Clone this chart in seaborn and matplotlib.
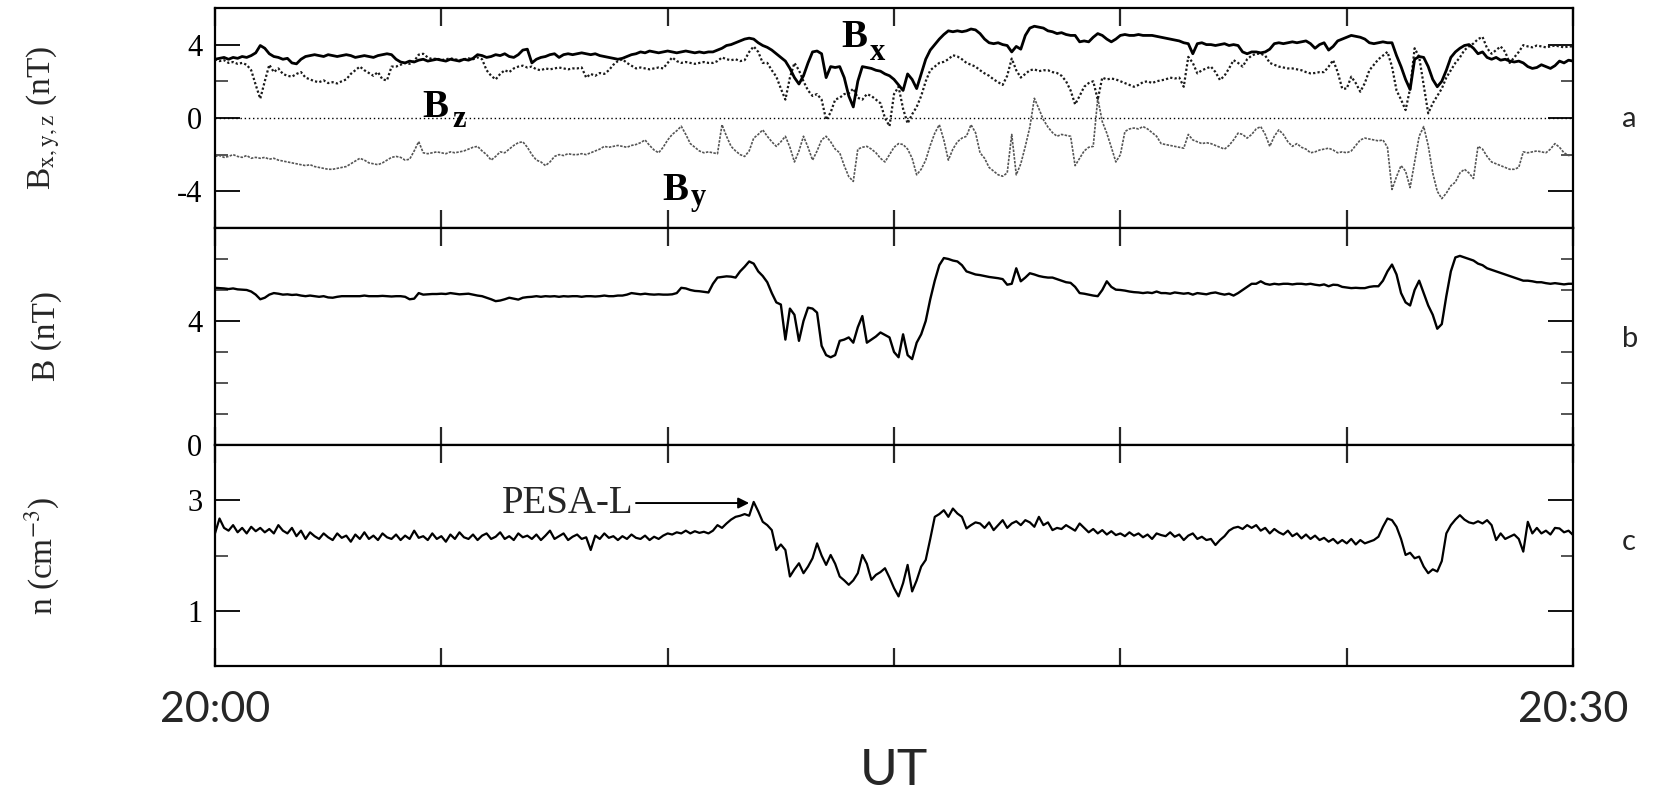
import numpy as np
import pandas as pd
import matplotlib
matplotlib.use("Agg")
import matplotlib.pyplot as plt
from matplotlib.ticker import NullLocator
import seaborn as sns

# time grid: minutes after 20:00 UT
minutes = np.round(np.arange(0, 30.05, 0.1), 1)

bx = [
    3.2, 3.25, 3.3, 3.2, 3.3, 3.25, 3.35, 3.3, 3.4, 3.55,
    3.95, 3.8, 3.5, 3.35, 3.3, 3.2, 3.25, 3.0, 2.95, 3.2,
    3.35, 3.4, 3.45, 3.4, 3.35, 3.45, 3.4, 3.35, 3.4, 3.45,
    3.4, 3.3, 3.35, 3.4, 3.35, 3.3, 3.4, 3.45, 3.5, 3.45,
    3.2, 3.05, 3.0, 3.1, 3.05, 3.15, 3.2, 3.1, 3.15, 3.2,
    3.15, 3.1, 3.2, 3.15, 3.1, 3.2, 3.15, 3.25, 3.45, 3.4,
    3.3, 3.35, 3.45, 3.4, 3.5, 3.35, 3.3, 3.45, 3.7, 3.75,
    3.0, 3.2, 3.3, 3.35, 3.45, 3.5, 3.3, 3.45, 3.5, 3.45,
    3.5, 3.55, 3.5, 3.45, 3.5, 3.4, 3.35, 3.3, 3.25, 3.2,
    3.25, 3.35, 3.45, 3.5, 3.6, 3.55, 3.65, 3.6, 3.55, 3.6,
    3.65, 3.6, 3.55, 3.6, 3.65, 3.6, 3.55, 3.6, 3.55, 3.6,
    3.6, 3.7, 3.8, 3.95, 4.0, 4.1, 4.2, 4.3, 4.35, 4.3,
    4.1, 3.95, 3.85, 3.7, 3.5, 3.3, 3.1, 2.7, 2.2, 1.85,
    2.3, 3.0, 3.6, 3.65, 3.5, 2.2, 2.8, 2.75, 2.8, 2.2,
    1.2, 0.6, 2.0, 2.8, 2.75, 2.7, 2.6, 2.55, 2.4, 2.3,
    2.1, 1.8, 1.5, 2.4, 2.1, 1.6, 2.4, 3.2, 3.7, 4.0,
    4.3, 4.55, 4.75, 4.7, 4.75, 4.7, 4.75, 4.85, 4.8, 4.6,
    4.3, 4.1, 4.05, 4.1, 4.0, 3.95, 3.6, 3.9, 3.75, 4.5,
    4.9, 5.0, 4.95, 4.9, 4.75, 4.7, 4.6, 4.65, 4.55, 4.5,
    4.5, 4.15, 4.2, 4.15, 4.4, 4.6, 4.5, 4.3, 4.15, 4.3,
    4.5, 4.55, 4.5, 4.5, 4.55, 4.5, 4.5, 4.5, 4.45, 4.4,
    4.35, 4.3, 4.25, 4.2, 4.1, 4.05, 3.5, 4.05, 4.1, 4.0,
    4.0, 3.95, 4.0, 4.05, 3.95, 4.0, 3.95, 3.6, 3.5, 3.6,
    3.6, 3.55, 3.6, 3.75, 4.05, 4.1, 4.05, 4.1, 4.15, 4.1,
    4.15, 4.2, 4.05, 3.8, 4.0, 4.1, 3.7, 3.9, 4.2, 4.3,
    4.4, 4.5, 4.45, 4.4, 4.3, 4.1, 4.05, 4.1, 4.15, 4.1,
    4.1, 3.4, 2.8, 2.1, 1.55, 3.2, 3.35, 3.3, 2.8, 2.1,
    1.7, 2.0, 2.6, 3.3, 3.6, 3.8, 3.95, 4.0, 3.8, 3.5,
    3.6, 3.3, 3.2, 3.3, 3.15, 3.2, 3.1, 3.05, 3.1, 3.0,
    2.8, 2.7, 2.75, 2.9, 2.8, 2.7, 2.85, 3.1, 3.0, 3.15,
    3.1,
]

bz = [
    3.2, 3.1, 3.15, 3.0, 3.05, 2.95, 3.0, 2.9, 2.6, 1.8,
    1.05, 2.0, 2.9, 2.5, 2.7, 2.4, 2.3, 2.25, 2.4, 2.5,
    2.2, 2.1, 2.0, 1.95, 2.05, 1.9, 1.95, 1.88, 2.0, 2.1,
    2.4, 2.6, 2.8, 2.6, 2.45, 2.3, 2.5, 2.1, 2.05, 2.8,
    2.8, 2.9, 3.0, 2.95, 3.1, 3.45, 3.5, 3.3, 3.2, 3.25,
    3.15, 3.2, 3.25, 3.2, 3.15, 3.2, 3.25, 3.2, 3.3, 3.2,
    2.6, 2.3, 2.1, 2.4, 2.6, 2.5, 2.7, 2.8, 2.85, 2.75,
    2.8, 2.65, 2.6, 2.7, 2.65, 2.7, 2.75, 2.7, 2.65, 2.7,
    2.7, 2.75, 2.2, 2.4, 2.3, 2.45, 2.4, 2.6, 2.9, 3.1,
    3.2, 3.0, 2.85, 2.7, 2.75, 2.7, 2.65, 2.7, 2.75, 2.7,
    3.0, 3.3, 3.1, 3.0, 3.05, 3.0, 2.95, 3.0, 3.05, 3.0,
    3.0, 3.1, 3.3, 3.2, 3.15, 3.2, 3.1, 3.15, 3.6, 3.9,
    3.6, 3.0, 3.0, 2.6, 2.25, 1.6, 1.0, 2.2, 3.0, 2.6,
    2.0, 1.5, 1.2, 1.3, 1.0, -0.1, 0.3, 1.0, 1.1, 1.3,
    1.34, 1.6, 1.1, 1.0, 1.3, 1.2, 1.0, 0.8, 0.0, -0.45,
    1.3, 1.7, 0.5, -0.3, 0.2, 0.6, 1.2, 2.0, 2.6, 2.8,
    3.0, 3.06, 3.2, 3.42, 3.35, 3.2, 3.0, 2.9, 2.8, 2.6,
    2.43, 2.3, 2.1, 1.95, 1.8, 2.3, 3.24, 2.6, 2.2, 2.4,
    2.6, 2.65, 2.55, 2.6, 2.6, 2.5, 2.45, 2.3, 2.0, 1.5,
    0.74, 1.2, 1.7, 1.9, 2.0, 1.0, 2.2, 2.1, 2.15, 2.1,
    2.0, 1.9, 1.8, 1.7, 1.8, 1.95, 2.0, 1.9, 2.0, 2.05,
    2.1, 2.2, 2.15, 2.2, 1.7, 3.33, 3.0, 2.43, 2.6, 2.7,
    2.8, 2.5, 2.07, 2.3, 2.7, 3.15, 3.0, 2.8, 3.2, 3.4,
    3.5, 3.5, 3.4, 3.0, 2.9, 2.8, 2.75, 2.7, 2.7, 2.65,
    2.6, 2.5, 2.43, 2.45, 2.5, 2.5, 2.8, 3.15, 2.5, 1.6,
    1.6, 2.25, 1.9, 1.43, 1.9, 2.6, 2.9, 3.2, 3.4, 3.6,
    2.8, 1.5, 1.0, 0.43, 1.6, 3.8, 3.33, 1.8, 0.25, 0.8,
    1.2, 1.6, 2.2, 2.6, 3.0, 3.3, 3.7, 3.9, 4.06, 4.3,
    4.42, 3.8, 3.5, 3.7, 3.9, 3.6, 3.0, 3.3, 3.6, 3.97,
    3.9, 3.85, 3.95, 3.9, 3.85, 3.9, 3.95, 3.9, 3.85, 3.9,
    3.9,
]

by = [
    -2.1, -2.05, -2.15, -2.1, -2.0, -2.1, -2.15, -2.05, -2.2, -2.15,
    -2.2, -2.15, -2.25, -2.2, -2.3, -2.35, -2.4, -2.45, -2.5, -2.55,
    -2.6, -2.55, -2.65, -2.7, -2.75, -2.8, -2.8, -2.75, -2.7, -2.65,
    -2.5, -2.35, -2.2, -2.3, -2.45, -2.5, -2.55, -2.45, -2.3, -2.15,
    -2.1, -2.15, -2.3, -2.25, -1.8, -1.29, -1.9, -1.95, -1.9, -1.85,
    -1.9, -1.95, -1.85, -1.9, -1.85, -1.8, -1.7, -1.6, -1.55, -1.8,
    -2.0, -2.3, -2.1, -1.85, -1.9, -1.7, -1.5, -1.35, -1.3, -1.6,
    -2.0, -2.3, -2.4, -2.6, -2.4, -2.1, -2.0, -2.05, -1.95, -2.0,
    -2.0, -1.95, -2.0, -1.9, -1.8, -1.7, -1.55, -1.6, -1.55, -1.5,
    -1.55, -1.6, -1.5, -1.45, -1.35, -1.2, -1.5, -1.75, -1.9, -1.6,
    -1.2, -0.9, -0.7, -0.45, -0.9, -1.4, -1.6, -1.8, -1.9, -1.85,
    -1.9, -1.95, -0.37, -1.0, -1.55, -1.8, -2.0, -2.1, -1.8, -1.1,
    -0.9, -0.65, -1.0, -1.3, -1.55, -1.3, -1.0, -1.6, -2.4, -1.8,
    -1.0, -1.6, -2.3, -1.8, -1.2, -1.0, -1.3, -1.7, -1.9, -2.6,
    -3.2, -3.46, -1.7, -1.6, -1.55, -1.7, -1.9, -2.2, -2.4, -2.0,
    -1.6, -1.4, -1.45, -1.7, -2.2, -3.1, -2.8, -2.3, -1.5, -0.83,
    -0.37, -1.2, -2.3, -1.7, -1.3, -1.1, -1.0, -0.37, -0.8, -1.9,
    -2.2, -2.7, -2.9, -3.1, -3.18, -3.0, -0.9, -3.1, -2.5, -1.55,
    -0.5, 1.07, 0.5, -0.1, -0.5, -0.8, -1.0, -0.9, -0.95, -1.0,
    -2.6, -2.2, -1.8, -1.6, -1.55, 1.07, -0.2, -0.83, -1.6, -2.4,
    -2.0, -0.74, -0.6, -0.55, -0.6, -0.47, -0.6, -0.8, -1.0, -1.4,
    -1.45, -1.5, -1.55, -1.6, -1.65, -0.9, -1.2, -1.3, -1.4, -1.35,
    -1.4, -1.5, -1.6, -1.7, -1.5, -1.2, -0.83, -0.9, -1.1, -0.9,
    -0.6, -0.47, -0.9, -1.55, -1.0, -0.65, -0.9, -1.3, -1.55, -1.4,
    -1.6, -1.7, -1.9, -1.85, -1.75, -1.7, -1.65, -1.75, -1.9, -1.85,
    -1.9, -1.8, -1.5, -1.2, -1.1, -1.15, -1.2, -1.25, -1.2, -1.6,
    -3.9, -3.2, -2.6, -2.9, -3.8, -2.4, -1.0, -0.47, -1.5, -3.0,
    -4.0, -4.4, -4.1, -3.7, -3.5, -3.0, -2.8, -3.0, -3.3, -1.55,
    -1.7, -2.1, -2.4, -2.5, -2.6, -2.7, -2.8, -2.8, -2.7, -1.85,
    -1.9, -1.85, -1.8, -1.85, -1.9, -1.7, -1.4, -1.6, -1.9, -2.05,
    -2.0,
]

b_total = [
    5.07, 5.06, 5.05, 5.03, 5.05, 5.02, 5.01, 5.0, 4.95, 4.85,
    4.7, 4.75, 4.85, 4.9, 4.88, 4.85, 4.86, 4.84, 4.85, 4.82,
    4.8, 4.82, 4.8, 4.78, 4.8, 4.76, 4.75, 4.78, 4.8, 4.8,
    4.8, 4.8, 4.8, 4.82, 4.8, 4.8, 4.8, 4.81, 4.8, 4.79,
    4.8, 4.8, 4.78, 4.7, 4.72, 4.9, 4.85, 4.86, 4.87, 4.87,
    4.88, 4.87, 4.9, 4.88, 4.86, 4.87, 4.88, 4.85, 4.82, 4.8,
    4.75, 4.7, 4.64, 4.66, 4.7, 4.75, 4.72, 4.69, 4.75, 4.77,
    4.78, 4.8, 4.78, 4.8, 4.79, 4.8, 4.78, 4.8, 4.79, 4.8,
    4.8, 4.78, 4.8, 4.8, 4.79, 4.8, 4.82, 4.8, 4.8, 4.82,
    4.82, 4.85, 4.9, 4.88, 4.86, 4.88, 4.86, 4.85, 4.86, 4.85,
    4.85, 4.86, 4.9, 5.07, 5.05, 5.0, 4.97, 4.96, 4.94, 4.92,
    5.2, 5.4, 5.42, 5.44, 5.43, 5.4, 5.6, 5.75, 5.92, 5.85,
    5.6, 5.45, 5.25, 4.9, 4.6, 4.53, 3.4, 4.4, 4.2, 3.36,
    4.0, 4.43, 4.4, 4.27, 3.2, 2.9, 2.83, 2.9, 3.36, 3.4,
    3.47, 3.3, 3.8, 4.16, 3.3, 3.4, 3.5, 3.63, 3.55, 3.47,
    3.0, 2.83, 3.57, 2.9, 2.77, 3.3, 3.57, 4.0, 4.7, 5.3,
    5.8, 6.03, 6.0, 5.95, 5.92, 5.8, 5.6, 5.55, 5.5, 5.48,
    5.45, 5.42, 5.4, 5.38, 5.35, 5.17, 5.2, 5.7, 5.28, 5.4,
    5.54, 5.5, 5.45, 5.42, 5.4, 5.4, 5.35, 5.3, 5.25, 5.23,
    5.1, 4.9, 4.88, 4.85, 4.82, 4.8, 5.0, 5.28, 5.1, 5.01,
    5.0, 4.98, 4.95, 4.93, 4.92, 4.9, 4.92, 4.9, 4.95, 4.9,
    4.9, 4.88, 4.92, 4.9, 4.88, 4.9, 4.85, 4.9, 4.88, 4.86,
    4.9, 4.92, 4.88, 4.85, 4.88, 4.82, 4.9, 5.0, 5.1, 5.2,
    5.2, 5.28, 5.2, 5.17, 5.2, 5.18, 5.2, 5.2, 5.18, 5.2,
    5.2, 5.18, 5.2, 5.17, 5.15, 5.18, 5.12, 5.17, 5.16, 5.1,
    5.08, 5.06, 5.07, 5.06, 5.06, 5.1, 5.12, 5.12, 5.3, 5.6,
    5.82, 5.5, 4.9, 4.6, 4.5, 5.0, 5.3, 4.9, 4.5, 4.2,
    3.75, 3.9, 4.8, 5.6, 6.05, 6.1, 6.05, 6.0, 5.95, 5.85,
    5.8, 5.7, 5.65, 5.6, 5.55, 5.5, 5.45, 5.4, 5.35, 5.3,
    5.3, 5.28, 5.25, 5.25, 5.22, 5.2, 5.22, 5.2, 5.18, 5.2,
    5.2,
]

density = [
    2.4, 2.67, 2.5, 2.45, 2.55, 2.42, 2.5, 2.4, 2.52, 2.44,
    2.5, 2.42, 2.48, 2.4, 2.55, 2.45, 2.4, 2.5, 2.35, 2.45,
    2.3, 2.42, 2.35, 2.3, 2.4, 2.33, 2.28, 2.4, 2.32, 2.36,
    2.25, 2.38, 2.3, 2.42, 2.3, 2.36, 2.28, 2.4, 2.33, 2.3,
    2.38, 2.28, 2.36, 2.3, 2.45, 2.32, 2.35, 2.28, 2.4, 2.3,
    2.35, 2.25, 2.38, 2.3, 2.42, 2.33, 2.3, 2.38, 2.28, 2.36,
    2.4, 2.3, 2.34, 2.42, 2.3, 2.35, 2.28, 2.4, 2.33, 2.36,
    2.3, 2.38, 2.28, 2.36, 2.45, 2.3, 2.35, 2.4, 2.28, 2.34,
    2.38, 2.3, 2.33, 2.1, 2.36, 2.3, 2.4, 2.32, 2.35, 2.28,
    2.35, 2.3, 2.38, 2.32, 2.3, 2.36, 2.28, 2.34, 2.3, 2.36,
    2.4, 2.38, 2.42, 2.4, 2.45, 2.4, 2.44, 2.41, 2.43, 2.4,
    2.45, 2.55, 2.5, 2.58, 2.65, 2.7, 2.72, 2.75, 2.72, 2.97,
    2.8, 2.61, 2.55, 2.46, 2.1, 2.2, 2.1, 1.62, 1.75, 1.86,
    1.68, 1.8, 1.95, 2.22, 2.0, 1.83, 2.01, 1.85, 1.62, 1.55,
    1.47, 1.55, 1.68, 2.01, 1.85, 1.56, 1.65, 1.7, 1.77, 1.6,
    1.41, 1.26, 1.5, 1.83, 1.35, 1.55, 1.8, 1.92, 2.3, 2.7,
    2.75, 2.82, 2.7, 2.85, 2.76, 2.7, 2.49, 2.55, 2.6, 2.58,
    2.5, 2.6, 2.46, 2.55, 2.64, 2.5, 2.58, 2.62, 2.55, 2.64,
    2.6, 2.52, 2.7, 2.55, 2.6, 2.46, 2.5, 2.48, 2.55, 2.5,
    2.45, 2.58, 2.5, 2.42, 2.48, 2.4, 2.46, 2.38, 2.44, 2.37,
    2.4, 2.35, 2.42, 2.36, 2.4, 2.33, 2.38, 2.3, 2.4, 2.37,
    2.35, 2.42, 2.34, 2.38, 2.28, 2.36, 2.4, 2.3, 2.34, 2.28,
    2.3, 2.19, 2.28, 2.35, 2.45, 2.5, 2.52, 2.48, 2.55, 2.5,
    2.55, 2.45, 2.5, 2.4, 2.48, 2.42, 2.38, 2.45, 2.35, 2.4,
    2.31, 2.38, 2.3, 2.36, 2.28, 2.32, 2.25, 2.3, 2.22, 2.28,
    2.22, 2.3, 2.2, 2.28, 2.22, 2.25, 2.28, 2.34, 2.52, 2.67,
    2.64, 2.52, 2.3, 2.01, 2.05, 1.95, 1.98, 1.8, 1.68, 1.75,
    1.71, 1.9, 2.4, 2.55, 2.65, 2.73, 2.65, 2.6, 2.58, 2.62,
    2.58, 2.64, 2.55, 2.28, 2.4, 2.3, 2.34, 2.38, 2.3, 2.07,
    2.61, 2.4, 2.5, 2.4, 2.45, 2.38, 2.5, 2.49, 2.42, 2.45,
    2.37,
]

x_tick_minutes = [0, 5, 10, 15, 20, 25, 30]
x_tick_labels = ["20:00", "", "", "", "", "", "20:30"]

for arr in (bx, bz, by, b_total, density):
    assert len(arr) == len(minutes), len(arr)

df = pd.DataFrame({"minute": minutes, "Bx": bx, "By": by, "Bz": bz,
                   "B": b_total, "n": density})

sns.set_theme(style="ticks")
plt.rcParams["font.family"] = ["Liberation Serif", "DejaVu Serif"]
plt.rcParams["mathtext.fontset"] = "stix"
plt.rcParams["axes.unicode_minus"] = False

fig = plt.figure(figsize=(16.55, 7.91), dpi=100)
L, W = 0.1299, 0.8206
ax_a = fig.add_axes([L, 0.7118, W, 0.2782])
ax_b = fig.add_axes([L, 0.4374, W, 0.2744], sharex=ax_a)
ax_c = fig.add_axes([L, 0.158, W, 0.2794], sharex=ax_a)

# panel a
ax_a.axhline(0, color="black", lw=1.0, ls=(0, (1, 2)), zorder=1)
sns.lineplot(data=df, x="minute", y="By", ax=ax_a, color="#555555",
             linewidth=1.2, linestyle=(0, (1.5, 0.8)), zorder=2)
sns.lineplot(data=df, x="minute", y="Bz", ax=ax_a, color="#1a1a1a",
             linewidth=1.6, linestyle=(0, (1, 1)), zorder=3)
sns.lineplot(data=df, x="minute", y="Bx", ax=ax_a, color="black",
             linewidth=2.0, zorder=4)
# panel b
sns.lineplot(data=df, x="minute", y="B", ax=ax_b, color="black", linewidth=1.7)
# panel c
sns.lineplot(data=df, x="minute", y="n", ax=ax_c, color="black", linewidth=1.6)


def style(ax, ylim, major, labels, minor):
    ax.set_xlim(0, 30)
    ax.set_ylim(*ylim)
    ax.set_yticks(major)
    ax.set_yticklabels(labels)
    ax.set_yticks(minor, minor=True)
    ax.set_xticks(x_tick_minutes)
    ax.xaxis.set_minor_locator(NullLocator())
    ax.tick_params(axis="y", which="major", direction="in", length=18,
                   width=1.3, left=True, right=True, labelsize=22, pad=9,
                   colors="black")
    ax.tick_params(axis="y", which="minor", direction="in", length=9,
                   width=1.1, left=True, right=True)
    ax.tick_params(axis="x", which="major", direction="in", length=13,
                   width=1.6, top=True, bottom=True, labelbottom=False)
    ax.set_xlabel("")
    for s in ax.spines.values():
        s.set_linewidth(1.6)
        s.set_color("black")
    ax.yaxis.set_label_coords(-0.113, 0.5)


style(ax_a, (-6, 6), [-4, 0, 4], ["-4", "0", "4"], [-2, 2])
style(ax_b, (0, 7), [0, 4], ["0", "4"], [1, 2, 3, 5, 6])
style(ax_c, (0, 4), [1, 3], ["1", "3"], [2])

ax_a.set_ylabel(r"B$_{\mathrm{x,y,z}}$ (nT)", fontsize=24)
ax_b.set_ylabel("B (nT)", fontsize=24)
ax_c.set_ylabel(r"n (cm$^{-3}$)", fontsize=24)

ax_c.tick_params(axis="x", labelbottom=True, pad=18)
ax_c.set_xticklabels(x_tick_labels, fontfamily="Lato", fontsize=31)

# component labels in panel a
lab = dict(fontfamily="Liberation Serif", fontweight="bold", color="black")
ax_a.text(13.83, 3.86, "B", fontsize=28, ha="left", va="baseline", **lab)
ax_a.text(14.46, 3.15, "x", fontsize=22, ha="left", va="baseline", **lab)
ax_a.text(4.57, 0.05, "B", fontsize=28, ha="left", va="baseline", **lab)
ax_a.text(5.24, -0.5, "z", fontsize=22, ha="left", va="baseline", **lab)
ax_a.text(9.88, -4.46, "B", fontsize=28, ha="left", va="baseline", **lab)
ax_a.text(10.52, -4.75, "y", fontsize=22, ha="left", va="baseline", **lab)

# PESA-L annotation
ax_c.text(9.24, 2.77, "PESA-L", fontsize=28, ha="right", va="baseline",
          fontfamily="Liberation Serif")
ax_c.annotate("", xy=(11.8, 2.95), xytext=(9.3, 2.95),
              arrowprops=dict(arrowstyle="-|>", lw=1.4, color="black",
                              mutation_scale=16, shrinkA=0, shrinkB=0))

# panel letters
for txt, y in (("a", 1 - 127 / 791), ("b", 1 - 347 / 791), ("c", 1 - 550 / 791)):
    fig.text(0.980, y, txt, fontsize=21, fontfamily="Lato", ha="left",
             va="baseline")

fig.text(0.5402, 1 - 785 / 791, "UT", fontsize=37, fontfamily="Lato",
         ha="center", va="baseline")

fig.savefig("out.png", dpi=100, facecolor="white")
